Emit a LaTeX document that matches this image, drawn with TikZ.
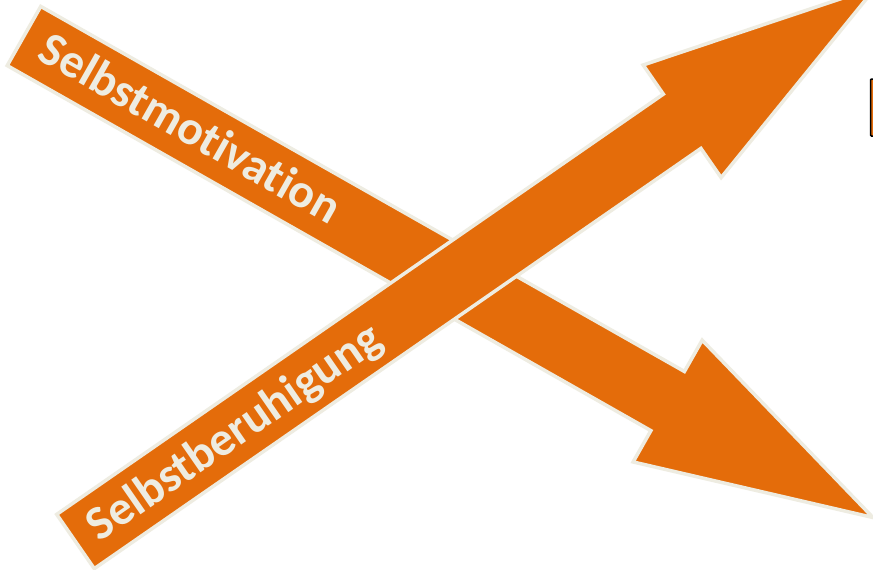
\documentclass[tikz,border=0pt]{standalone}
\usepackage{fontspec}
\setmainfont{Carlito}[Ligatures=NoCommon]
\definecolor{arrowfill}{HTML}{E46C0A}
\definecolor{arrowline}{HTML}{EEECE1}
\tikzset{
  bigarrow/.style={fill=arrowfill, draw=arrowline, line width=3.5pt, line join=miter},
  arrowlabel/.style={font=\bfseries\fontsize{48}{48}\selectfont, text=arrowline,
    anchor=base west, inner sep=0pt, transform shape},
  edgebox/.style={fill=arrowfill, draw=black, line width=1.5pt, rounded corners=1pt}
}
\begin{document}
\begin{tikzpicture}[x=1pt, y=-1pt]
  \useasboundingbox (0,0) rectangle (873,570);
  \clip (0,0) rectangle (873,570);
  \fill[white] (0,0) rectangle (873,570);

  % small box at the right border
  \draw[edgebox] (870.5,79) rectangle (900,136);

  % downward arrow
  \begin{scope}[shift={(24,36)}, rotate=-29.56]
    \draw[bigarrow] (0,-34) -- (740,-34) -- (740,-70) -- (976,0)
      -- (740,70) -- (740,34) -- (0,34) -- cycle;
    \node[arrowlabel] (motiv) at (21,14) {Selbstmotivation};
  \end{scope}

  % upward arrow, lying on top
  \begin{scope}[shift={(75.5,541.5)}, rotate=34.71]
    \draw[bigarrow] (0,-33) -- (738,-33) -- (738,-68.5) -- (974,0)
      -- (738,68.5) -- (738,33) -- (0,33) -- cycle;
    \node[arrowlabel] (beruh) at (19,15) {Selbstberuhigung};
  \end{scope}
\end{tikzpicture}
\end{document}
